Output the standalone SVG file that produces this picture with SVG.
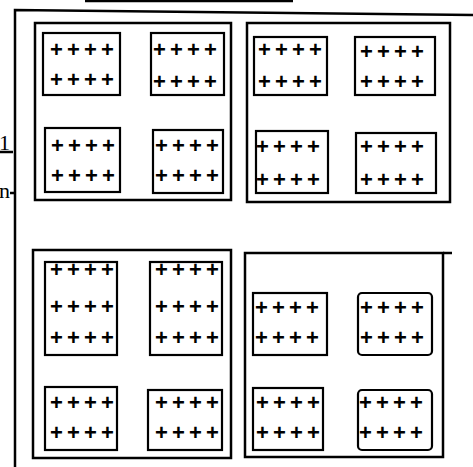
<svg xmlns="http://www.w3.org/2000/svg" width="473" height="467" viewBox="0 0 473 467">
<style>
.f{fill:none;stroke:#000;stroke-width:2.5}
.b{fill:none;stroke:#000;stroke-width:2.5}
.i{fill:none;stroke:#000;stroke-width:2.2}
.p{font-family:"Liberation Sans",Arial,sans-serif;font-size:22px;font-weight:bold;letter-spacing:4.15px;fill:#000}
.l{font-family:"Liberation Serif","Times New Roman",serif;font-size:22px;fill:#000}
</style>
<rect width="473" height="467" fill="#fff"/>
<g id="frame">
<line class="f" x1="85" y1="1" x2="293" y2="1"/>
<polyline class="f" points="15,467 15,10 473,15"/>
</g>
<g id="labels">
<text class="l" x="-1" y="150">1</text>
<text class="l" x="-1" y="198">n</text>
</g>
<g id="connectors">
<line class="f" x1="0" y1="152" x2="13" y2="152"/>
<line class="f" x1="10" y1="193" x2="15" y2="193"/>
</g>
<g id="blockA">
<rect class="b" x="35" y="23" width="196" height="177"/>
<g id="A1"><rect class="i" x="43" y="33" width="77" height="62"/><text class="p" x="50" y="57">++++</text><text class="p" x="50" y="87">++++</text></g>
<g id="A2"><rect class="i" x="151" y="33" width="73" height="62"/><text class="p" x="153" y="57">++++</text><text class="p" x="153" y="89">++++</text></g>
<g id="A3"><rect class="i" x="45" y="128" width="75" height="64"/><text class="p" x="51" y="153">++++</text><text class="p" x="51" y="183">++++</text></g>
<g id="A4"><rect class="i" x="153" y="130" width="70" height="63"/><text class="p" x="155" y="153">++++</text><text class="p" x="155" y="183">++++</text></g>
</g>
<g id="blockB">
<rect class="b" x="247" y="23" width="203" height="179"/>
<g id="B1"><rect class="i" x="254" y="37" width="73" height="58"/><text class="p" x="258" y="57">++++</text><text class="p" x="258" y="89">++++</text></g>
<g id="B2"><rect class="i" x="355" y="37" width="80" height="58"/><text class="p" x="360" y="59">++++</text><text class="p" x="360" y="89">++++</text></g>
<g id="B3"><rect class="i" x="256" y="131" width="72" height="62"/><text class="p" x="256" y="154">++++</text><text class="p" x="256" y="187">++++</text></g>
<g id="B4"><rect class="i" x="356" y="133" width="80" height="60"/><text class="p" x="360" y="154">++++</text><text class="p" x="360" y="187">++++</text></g>
</g>
<g id="blockC">
<rect class="b" x="33" y="250" width="198" height="208"/>
<g id="C1"><rect class="i" x="45" y="262" width="72" height="93"/><text class="p" x="50" y="277">++++</text><text class="p" x="50" y="314">++++</text><text class="p" x="50" y="345">++++</text></g>
<g id="C2"><rect class="i" x="150" y="262" width="72" height="93"/><text class="p" x="155" y="277">++++</text><text class="p" x="155" y="314">++++</text><text class="p" x="155" y="345">++++</text></g>
<g id="C3"><rect class="i" x="45" y="387" width="72" height="63"/><text class="p" x="50" y="410">++++</text><text class="p" x="50" y="440">++++</text></g>
<g id="C4"><rect class="i" x="148" y="390" width="74" height="60"/><text class="p" x="155" y="410">++++</text><text class="p" x="155" y="440">++++</text></g>
</g>
<g id="blockD">
<rect class="b" x="245" y="253" width="198" height="204"/>
<line class="b" x1="443" y1="253" x2="452" y2="253"/>
<g id="D1"><rect class="i" x="253" y="293" width="74" height="62"/><text class="p" x="255" y="315">++++</text><text class="p" x="255" y="345">++++</text></g>
<g id="D2"><rect class="i" x="358" y="293" width="74" height="62" rx="4"/><text class="p" x="360" y="315">++++</text><text class="p" x="360" y="345">++++</text></g>
<g id="D3"><rect class="i" x="253" y="388" width="70" height="62"/><text class="p" x="256" y="410">++++</text><text class="p" x="256" y="440">++++</text></g>
<g id="D4"><rect class="i" x="358" y="390" width="74" height="60" rx="4"/><text class="p" x="359" y="410">++++</text><text class="p" x="359" y="440">++++</text></g>
</g>
</svg>
